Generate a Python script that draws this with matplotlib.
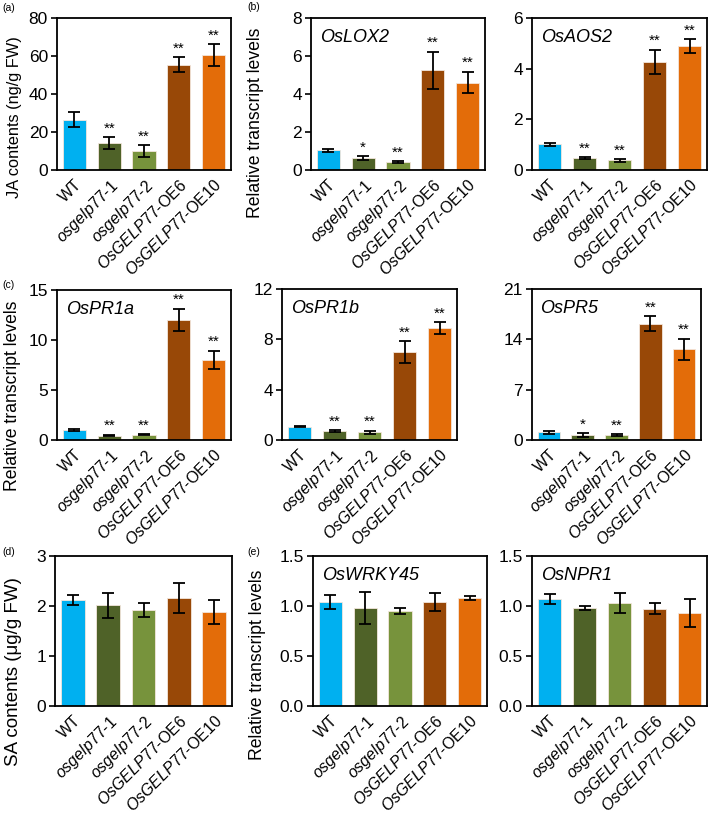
import numpy as np
import matplotlib.pyplot as plt

plt.rcParams['font.family'] = ['Liberation Sans', 'DejaVu Sans']
plt.rcParams['mathtext.fontset'] = 'custom'
plt.rcParams['mathtext.it'] = 'Liberation Sans:italic'
plt.rcParams['mathtext.rm'] = 'Liberation Sans'

lines = ['WT', r'$\mathit{osgelp77}$-1', r'$\mathit{osgelp77}$-2',
         r'$\mathit{OsGELP77}$-OE6', r'$\mathit{OsGELP77}$-OE10']
colors = ['#00B0F0', '#4F6228', '#77933C', '#984807', '#E36C09']

# JA content
ja = [26.5, 14.0, 10.0, 55.5, 60.5]
ja_err = [3.8, 3.2, 3.0, 4.0, 5.6]
ja_sig = ['', '**', '**', '**', '**']

lox2 = [1.05, 0.62, 0.42, 5.25, 4.6]
lox2_err = [0.08, 0.1, 0.05, 0.98, 0.57]
lox2_sig = ['', '*', '**', '**', '**']

aos2 = [1.02, 0.47, 0.38, 4.27, 4.88]
aos2_err = [0.06, 0.04, 0.05, 0.48, 0.28]
aos2_sig = ['', '**', '**', '**', '**']

pr1a = [1.0, 0.45, 0.55, 12.05, 8.05]
pr1a_err = [0.12, 0.08, 0.07, 1.1, 0.9]
pr1a_sig = ['', '**', '**', '**', '**']

pr1b = [1.05, 0.7, 0.6, 7.0, 8.9]
pr1b_err = [0.05, 0.06, 0.15, 0.85, 0.45]
pr1b_sig = ['', '**', '**', '**', '**']

pr5 = [1.1, 0.7, 0.7, 16.2, 12.6]
pr5_err = [0.2, 0.25, 0.1, 1.0, 1.5]
pr5_sig = ['', '*', '**', '**', '**']

# SA content
sa = [2.12, 2.02, 1.93, 2.17, 1.89]
sa_err = [0.1, 0.25, 0.14, 0.3, 0.24]

wrky45 = [1.04, 0.98, 0.95, 1.04, 1.08]
wrky45_err = [0.07, 0.16, 0.03, 0.09, 0.02]

npr1 = [1.07, 0.985, 1.03, 0.975, 0.93]
npr1_err = [0.05, 0.02, 0.1, 0.055, 0.14]

fig = plt.figure(figsize=(7.09, 8.14), dpi=100)
W, H = 709., 814.

def make_ax(l, t, r, b):
    return fig.add_axes([l / W, 1 - b / H, (r - l) / W, (b - t) / H])

def panel(ax, vals, errs, ymax, step, gene=None, sig=None, fmt='%g'):
    x = np.arange(len(vals))
    ax.bar(x, vals, width=0.67, color=colors, edgecolor='#f3e6dc', linewidth=0.6, zorder=2)
    ax.errorbar(x, vals, yerr=errs, fmt='none', ecolor='black', elinewidth=1.3,
                capsize=4, capthick=1.3, zorder=3)
    ax.set_xlim(-0.5, len(vals) - 0.5)
    ax.set_ylim(0, ymax)
    ticks = np.arange(0, ymax + step / 2, step)
    ax.set_yticks(ticks)
    ax.set_yticklabels([fmt % t for t in ticks], fontsize=12.5)
    ax.set_xticks(x)
    ax.set_xticklabels(lines, rotation=45, ha='right', rotation_mode='anchor', fontsize=11.5)
    ax.tick_params(axis='x', length=0, pad=5)
    ax.tick_params(axis='y', direction='out', length=4, width=1.2, pad=2.5)
    for s in ax.spines.values():
        s.set_linewidth(1.3)
    if gene:
        ax.text(0.05, 0.93, gene, transform=ax.transAxes, fontsize=13, style='italic',
                va='top', ha='left')
    if sig:
        for i, s in enumerate(sig):
            if s:
                ax.text(i, vals[i] + errs[i] + ymax * 0.01, s, ha='center', va='bottom', fontsize=11)

def ylab(text, x, y, size):
    fig.text(x / W, 1 - y / H, text, rotation=90, ha='center', va='center', fontsize=size)

ax = make_ax(57, 18, 231, 170)
panel(ax, ja, ja_err, 80, 20, sig=ja_sig)
ax = make_ax(311, 18, 485, 170)
panel(ax, lox2, lox2_err, 8, 2, gene='OsLOX2', sig=lox2_sig)
ax = make_ax(532, 18, 707, 170)
panel(ax, aos2, aos2_err, 6, 2, gene='OsAOS2', sig=aos2_sig)

ax = make_ax(57, 290, 231, 440)
panel(ax, pr1a, pr1a_err, 15, 5, gene='OsPR1a', sig=pr1a_sig)
ax = make_ax(282, 289, 457, 440)
panel(ax, pr1b, pr1b_err, 12, 4, gene='OsPR1b', sig=pr1b_sig)
ax = make_ax(532, 289, 701, 440)
panel(ax, pr5, pr5_err, 21, 7, gene='OsPR5', sig=pr5_sig)

ax = make_ax(55, 556, 232, 706)
panel(ax, sa, sa_err, 3, 1)
ax = make_ax(313, 556, 487, 706)
panel(ax, wrky45, wrky45_err, 1.5, 0.5, gene='OsWRKY45', fmt='%.1f')
ax = make_ax(532, 556, 707, 706)
panel(ax, npr1, npr1_err, 1.5, 0.5, gene='OsNPR1', fmt='%.1f')

ylab('JA contents (ng/g FW)', 15, 117, 11.8)
ylab('Relative transcript levels', 256, 123, 12.7)
ylab('Relative transcript levels', 13, 396, 12.7)
ylab('SA contents (\u03bcg/g FW)', 14, 672, 13.5)
ylab('Relative transcript levels', 258, 665, 12.7)

for lab, x, y in [('(a)', 2, 8), ('(b)', 247, 7), ('(c)', 2, 285), ('(d)', 2, 552), ('(e)', 247, 552)]:
    fig.text(x / W, 1 - y / H, lab, fontsize=7.5, va='center', ha='left')

fig.savefig('out.png', dpi=100)
